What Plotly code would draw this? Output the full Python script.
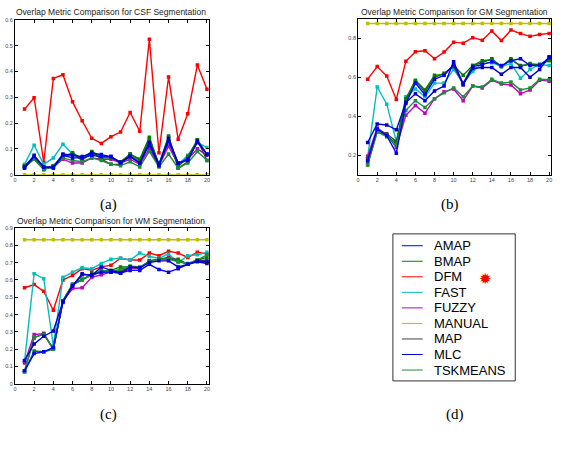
import plotly.graph_objects as go

W, H = 563, 450
x_vals = list(range(1, 21))
methods = ["AMAP", "BMAP", "DFM", "FAST", "FUZZY", "MANUAL", "MAP", "MLC", "TSKMEANS"]
colors = ["#0000FF", "#008000", "#FF0000", "#00BFBF", "#BF00BF", "#BFBF00", "#404040", "#0000CC", "#1E8C3C"]

csf_amap = [0.025, 0.07, 0.03, 0.025, 0.075, 0.065, 0.065, 0.075, 0.07, 0.07, 0.045, 0.07, 0.045, 0.115, 0.035, 0.13, 0.045, 0.06, 0.125, 0.08]
csf_bmap = [0.035, 0.065, 0.02, 0.035, 0.07, 0.085, 0.06, 0.09, 0.065, 0.065, 0.05, 0.08, 0.06, 0.145, 0.04, 0.15, 0.03, 0.07, 0.135, 0.08]
csf_dfm = [0.254, 0.298, 0.048, 0.373, 0.387, 0.282, 0.209, 0.141, 0.121, 0.147, 0.165, 0.241, 0.168, 0.525, 0.085, 0.378, 0.137, 0.236, 0.425, 0.331]
csf_fast = [0.04, 0.114, 0.04, 0.065, 0.118, 0.08, 0.06, 0.08, 0.07, 0.065, 0.05, 0.075, 0.05, 0.13, 0.04, 0.12, 0.04, 0.075, 0.125, 0.105]
csf_fuzzy = [0.035, 0.065, 0.025, 0.03, 0.06, 0.045, 0.045, 0.065, 0.06, 0.06, 0.045, 0.06, 0.04, 0.1, 0.035, 0.11, 0.04, 0.06, 0.1, 0.075]
csf_manual = [0.0] * 20
csf_map = [0.03, 0.06, 0.02, 0.035, 0.07, 0.08, 0.055, 0.088, 0.06, 0.04, 0.04, 0.08, 0.055, 0.14, 0.035, 0.145, 0.025, 0.05, 0.135, 0.055]
csf_mlc = [0.03, 0.075, 0.03, 0.03, 0.08, 0.075, 0.07, 0.085, 0.078, 0.07, 0.048, 0.072, 0.045, 0.125, 0.04, 0.14, 0.045, 0.055, 0.13, 0.078]
csf_tsk = [0.03, 0.06, 0.02, 0.03, 0.065, 0.055, 0.05, 0.065, 0.055, 0.04, 0.035, 0.05, 0.03, 0.09, 0.03, 0.08, 0.025, 0.045, 0.09, 0.055]

gm_amap = [0.17, 0.335, 0.30, 0.21, 0.465, 0.57, 0.51, 0.59, 0.61, 0.665, 0.56, 0.655, 0.665, 0.68, 0.66, 0.685, 0.695, 0.66, 0.66, 0.70]
gm_bmap = [0.15, 0.32, 0.30, 0.26, 0.49, 0.585, 0.535, 0.61, 0.615, 0.66, 0.61, 0.66, 0.685, 0.69, 0.655, 0.695, 0.655, 0.67, 0.665, 0.685]
gm_dfm = [0.59, 0.655, 0.606, 0.486, 0.682, 0.731, 0.736, 0.695, 0.729, 0.78, 0.775, 0.803, 0.79, 0.837, 0.788, 0.842, 0.824, 0.81, 0.819, 0.825]
gm_fast = [0.19, 0.55, 0.462, 0.27, 0.50, 0.54, 0.50, 0.57, 0.57, 0.64, 0.57, 0.63, 0.67, 0.675, 0.655, 0.67, 0.595, 0.64, 0.665, 0.66]
gm_fuzzy = [0.195, 0.34, 0.305, 0.24, 0.405, 0.455, 0.415, 0.49, 0.525, 0.54, 0.48, 0.555, 0.545, 0.585, 0.565, 0.56, 0.515, 0.535, 0.585, 0.58]
gm_manual = [0.876] * 20
gm_map = [0.18, 0.33, 0.31, 0.27, 0.48, 0.58, 0.525, 0.60, 0.62, 0.655, 0.57, 0.66, 0.675, 0.695, 0.655, 0.69, 0.66, 0.665, 0.665, 0.69]
gm_mlc = [0.265, 0.36, 0.355, 0.33, 0.47, 0.515, 0.48, 0.53, 0.555, 0.68, 0.565, 0.645, 0.65, 0.65, 0.615, 0.65, 0.65, 0.60, 0.64, 0.705]
gm_tsk = [0.155, 0.32, 0.295, 0.25, 0.43, 0.48, 0.445, 0.49, 0.52, 0.545, 0.50, 0.555, 0.55, 0.59, 0.57, 0.575, 0.535, 0.545, 0.59, 0.587]

wm_amap = [0.075, 0.175, 0.185, 0.21, 0.47, 0.565, 0.63, 0.63, 0.645, 0.645, 0.64, 0.655, 0.655, 0.69, 0.66, 0.645, 0.665, 0.69, 0.71, 0.705]
wm_bmap = [0.07, 0.19, 0.185, 0.20, 0.48, 0.575, 0.605, 0.625, 0.65, 0.655, 0.675, 0.675, 0.67, 0.705, 0.72, 0.72, 0.72, 0.69, 0.715, 0.73]
wm_dfm = [0.555, 0.573, 0.534, 0.425, 0.60, 0.626, 0.665, 0.655, 0.675, 0.685, 0.725, 0.715, 0.715, 0.755, 0.74, 0.765, 0.755, 0.73, 0.76, 0.75]
wm_fast = [0.13, 0.636, 0.607, 0.22, 0.615, 0.645, 0.67, 0.665, 0.695, 0.72, 0.725, 0.715, 0.755, 0.735, 0.725, 0.75, 0.70, 0.74, 0.745, 0.76]
wm_fuzzy = [0.12, 0.285, 0.29, 0.20, 0.48, 0.55, 0.555, 0.615, 0.63, 0.645, 0.64, 0.665, 0.665, 0.71, 0.72, 0.73, 0.715, 0.69, 0.71, 0.70]
wm_manual = [0.832] * 20
wm_map = [0.075, 0.265, 0.29, 0.20, 0.48, 0.575, 0.60, 0.635, 0.645, 0.645, 0.65, 0.675, 0.67, 0.71, 0.72, 0.725, 0.71, 0.69, 0.71, 0.715]
wm_mlc = [0.135, 0.23, 0.275, 0.305, 0.475, 0.565, 0.635, 0.625, 0.675, 0.655, 0.64, 0.675, 0.67, 0.70, 0.71, 0.71, 0.675, 0.69, 0.705, 0.695]
wm_tsk = [0.07, 0.27, 0.285, 0.20, 0.48, 0.57, 0.60, 0.63, 0.655, 0.65, 0.66, 0.68, 0.675, 0.705, 0.72, 0.72, 0.705, 0.695, 0.715, 0.745]

csf = [csf_amap, csf_bmap, csf_dfm, csf_fast, csf_fuzzy, csf_manual, csf_map, csf_mlc, csf_tsk]
gm = [gm_amap, gm_bmap, gm_dfm, gm_fast, gm_fuzzy, gm_manual, gm_map, gm_mlc, gm_tsk]
wm = [wm_amap, wm_bmap, wm_dfm, wm_fast, wm_fuzzy, wm_manual, wm_map, wm_mlc, wm_tsk]

titles = ["Overlap Metric Comparison for CSF Segmentation",
          "Overlap Metric Comparison for GM Segmentation",
          "Overlap Metric Comparison for WM Segmentation"]
panel_labels = ["(a)", "(b)", "(c)", "(d)"]


def px(x):
    return x / W


def py(y):
    return 1 - y / H


fig = go.Figure()

panels = [
    ("", csf, 13, 208, 17, 174, [0, 0.6], [0, 0.1, 0.2, 0.3, 0.4, 0.5, 0.6]),
    ("2", gm, 358, 552, 16, 174, [0.1, 0.9], [0.2, 0.4, 0.6, 0.8]),
    ("3", wm, 13, 208, 228, 386, [0, 0.9], [0, 0.1, 0.2, 0.3, 0.4, 0.5, 0.6, 0.7, 0.8, 0.9]),
]

order = [5, 2, 3, 4, 6, 1, 8, 0, 7]
for suf, data, l, r, t, b, yr, yt in panels:
    for i in order:
        fig.add_trace(go.Scatter(
            x=x_vals, y=data[i], mode="lines+markers", name=methods[i],
            line=dict(color=colors[i], width=1.4),
            marker=dict(color=colors[i], size=3.5, symbol="square"),
            xaxis="x" + suf, yaxis="y" + suf, showlegend=False))
    axcommon = dict(showline=True, linecolor="black", linewidth=1, mirror="ticks",
                    ticks="inside", ticklen=3, tickcolor="black", showgrid=False,
                    zeroline=False, tickfont=dict(size=5.5, color="#444", family="Arial"))
    fig.update_layout(**{
        "xaxis" + suf: dict(domain=[px(l), px(r)], range=[0, 20.2], tickvals=list(range(0, 21, 2)),
                            anchor="y" + suf, **axcommon),
        "yaxis" + suf: dict(domain=[py(b), py(t)], range=yr, tickvals=yt,
                            anchor="x" + suf, **axcommon),
    })

title_pos = [(110, 9), (455, 9), (110, 221)]
for (tx, ty), tt in zip(title_pos, titles):
    fig.add_annotation(x=px(tx), y=py(ty), xref="paper", yref="paper", text=tt,
                       showarrow=False, font=dict(size=8.5, family="Arial", color="#222"),
                       xanchor="center", yanchor="middle")

label_pos = [(107, 204), (450, 204), (107, 417), (455, 417)]
for (lx, ly), lt in zip(label_pos, panel_labels):
    fig.add_annotation(x=px(lx), y=py(ly), xref="paper", yref="paper", text=lt,
                       showarrow=False, font=dict(size=15, family="Liberation Serif", color="black"),
                       xanchor="center", yanchor="middle")

# legend box (d)
shapes = [dict(type="rect", xref="paper", yref="paper", x0=px(393), x1=px(516), y0=py(383), y1=py(234),
               line=dict(color="#333", width=1), fillcolor="white")]
for k, (m, c) in enumerate(zip(methods, colors)):
    yy = 246 + k * 15.75
    shapes.append(dict(type="line", xref="paper", yref="paper", x0=px(402), x1=px(423),
                       y0=py(yy), y1=py(yy), line=dict(color=c, width=1)))
    fig.add_annotation(x=px(432), y=py(yy), xref="paper", yref="paper", text=m,
                       showarrow=False, font=dict(size=13, family="Arial", color="black"),
                       xanchor="left", yanchor="middle")
fig.add_annotation(x=px(486), y=py(279), xref="paper", yref="paper", text="✹",
                   showarrow=False, font=dict(size=15, color="red"), xanchor="center", yanchor="middle")

fig.update_layout(width=W, height=H, margin=dict(l=0, r=0, t=0, b=0),
                  paper_bgcolor="white", plot_bgcolor="white", shapes=shapes, showlegend=False)

fig.write_html("out.html")
